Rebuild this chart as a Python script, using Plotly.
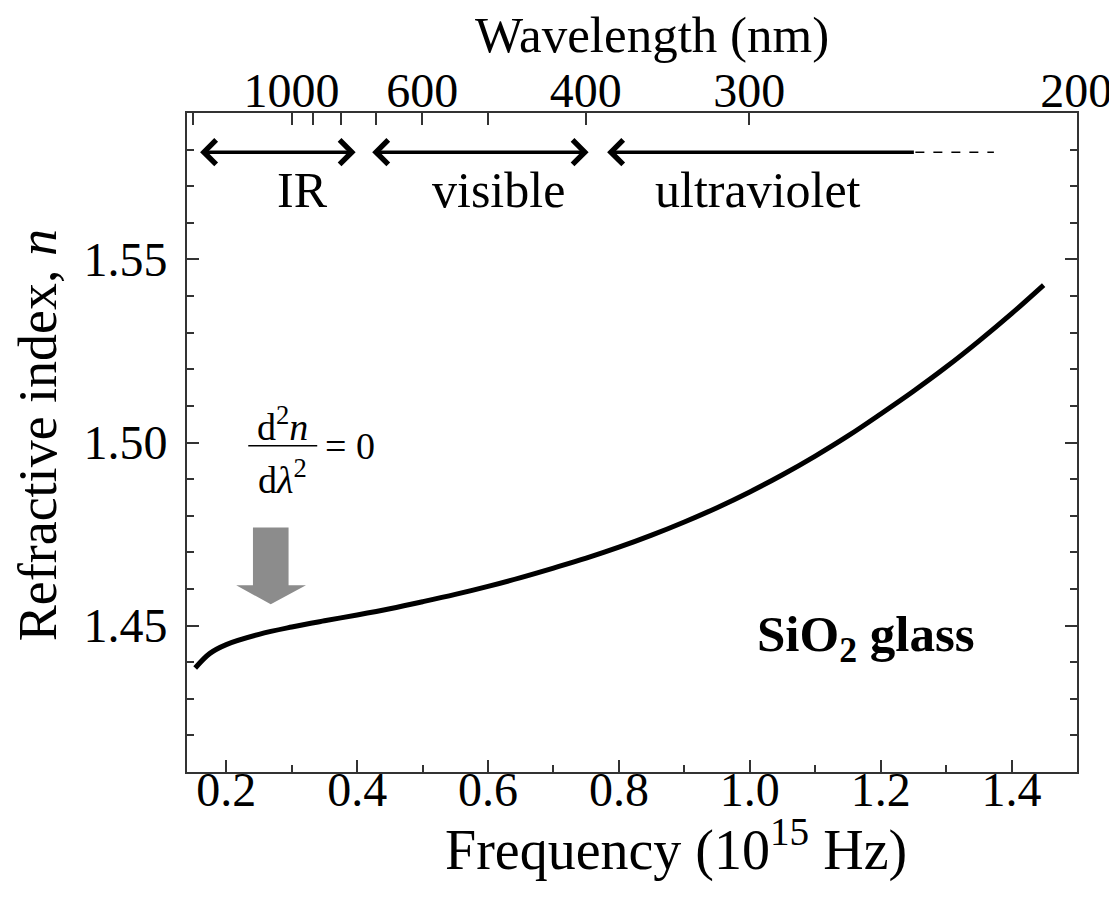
import plotly.graph_objects as go

# ---- data ----
freq = [0.1525, 0.175, 0.20, 0.25, 0.30, 0.35, 0.40, 0.45, 0.50, 0.55, 0.60, 0.65, 0.70,
        0.75, 0.80, 0.85, 0.90, 0.95, 1.00, 1.05, 1.10, 1.15, 1.20, 1.25, 1.30, 1.35,
        1.40, 1.449]
n_index = [1.4384, 1.4424, 1.4448, 1.4476, 1.4496, 1.4513, 1.4529, 1.4546, 1.4565, 1.4585,
           1.4607, 1.4631, 1.4657, 1.4684, 1.4714, 1.4747, 1.4783, 1.4822, 1.4865, 1.4912,
           1.4963, 1.5018, 1.5078, 1.5140, 1.5206, 1.5277, 1.5352, 1.5430]

x_ticks = [0.2, 0.4, 0.6, 0.8, 1.0, 1.2, 1.4]
x_minor = [0.3, 0.5, 0.7, 0.9, 1.1, 1.3]
y_ticks = [1.45, 1.50, 1.55]

wl_labeled = [1000, 600, 400, 300, 200]
wl_unlabeled = [2000, 900, 800, 700, 500]

# region spans (frequency, 10^15 Hz)
ir_span = [0.160, 0.400]
vis_span = [0.423, 0.756]
uv_span = [0.782, 1.253]
uv_dash = [1.253, 1.373]
span_y = 1.5793
region_labels = ["IR", "visible", "ultraviolet"]
region_label_x = [0.316, 0.616, 1.012]
region_label_y = 1.5689

FONT = "Liberation Serif"
AX = "#333333"
C_LIGHT = 299.79  # nm * 10^15 Hz

fig = go.Figure()
fig.add_trace(go.Scatter(x=freq, y=n_index, mode="lines", line=dict(color="black", width=5, shape="spline"),
                         showlegend=False, hoverinfo="skip"))
fig.add_trace(go.Scatter(x=uv_dash, y=[span_y, span_y], mode="lines",
                         line=dict(color="black", width=1.5, dash="dash"), showlegend=False, hoverinfo="skip"))
fig.add_trace(go.Scatter(x=[], y=[], xaxis="x2", showlegend=False, hoverinfo="skip"))

# region arrows
for (a, b), both in [(ir_span, True), (vis_span, True), (uv_span, False)]:
    fig.add_annotation(x=a, y=span_y, ax=b, ay=span_y, xref="x", yref="y", axref="x", ayref="y",
                       text="", showarrow=True, arrowhead=4, startarrowhead=4,
                       arrowside="end+start" if both else "end", arrowwidth=3.5, arrowsize=1.35,
                       startarrowsize=1.35, arrowcolor="black", standoff=0, startstandoff=0)
for t, x in zip(region_labels, region_label_x):
    fig.add_annotation(x=x, y=region_label_y, xref="x", yref="y", text=t, showarrow=False,
                       font=dict(family=FONT, size=50, color="black"), yanchor="middle")

# d2n/dlambda2 = 0 formula
frac_x = 0.2865
FS = 38
fig.add_annotation(x=frac_x, y=1.5050, xref="x", yref="y", text="d<sup>2</sup><i>n</i>", showarrow=False,
                   font=dict(family=FONT, size=FS, color="black"))
fig.add_annotation(x=frac_x, y=1.4905, xref="x", yref="y", text="d<i>λ</i><sup>2</sup>", showarrow=False,
                   font=dict(family=FONT, size=FS, color="black"))
fig.add_annotation(x=0.389, y=1.4991, xref="x", yref="y", text="= 0", showarrow=False,
                   font=dict(family=FONT, size=FS, color="black"))
fig.add_shape(type="line", xref="x", yref="y", x0=0.2336, x1=0.3390, y0=1.4991, y1=1.4991,
              line=dict(color="black", width=1.5))

# gray block arrow
arrow_path = ("M 0.2408 1.4768 L 0.2952 1.4768 L 0.2952 1.4610 L 0.3218 1.4610 "
              "L 0.2680 1.4558 L 0.2152 1.4610 L 0.2408 1.4610 Z")
fig.add_shape(type="path", xref="x", yref="y", path=arrow_path, fillcolor="#8c8c8c", line=dict(width=0))

fig.add_annotation(x=1.177, y=1.4466, xref="x", yref="y", text="<b>SiO<sub>2</sub> glass</b>",
                   showarrow=False, font=dict(family=FONT, size=51, color="black"))

# axis titles
fig.add_annotation(x=0.549, y=-0.112, xref="paper", yref="paper", text="Frequency (10<sup>15</sup> Hz)",
                   showarrow=False, font=dict(family=FONT, size=56, color="black"), yanchor="middle")
fig.add_annotation(x=0.522, y=1.118, xref="paper", yref="paper", text="Wavelength (nm)",
                   showarrow=False, font=dict(family=FONT, size=51, color="black"), yanchor="middle")
fig.add_annotation(x=-0.1674, y=0.511, xref="paper", yref="paper", text="Refractive index, <i>n</i>",
                   showarrow=False, textangle=-90, font=dict(family=FONT, size=54, color="black"),
                   xanchor="center", yanchor="middle")

fig.update_layout(
    width=1117, height=909,
    margin=dict(l=179, r=48, t=105, b=145),
    paper_bgcolor="white", plot_bgcolor="white",
    font=dict(family=FONT, color="black"),
    xaxis=dict(range=[0.14, 1.5], tickvals=x_ticks, tickformat=".1f", ticks="inside", ticklen=12,
               tickwidth=2, tickcolor=AX, showline=True, linewidth=2, linecolor=AX, mirror=False,
               showgrid=False, zeroline=False, tickfont=dict(family=FONT, size=48, color="black"),
               automargin=False, ticklabelstandoff=-26,
               minor=dict(tickvals=x_minor, ticks="inside", ticklen=7, tickwidth=2, tickcolor=AX)),
    xaxis2=dict(overlaying="x", side="top", anchor="y", range=[0.14, 1.5],
                tickvals=[C_LIGHT / w for w in wl_labeled], ticktext=[str(w) for w in wl_labeled],
                ticks="inside", ticklen=12,
                tickwidth=2, tickcolor=AX, showline=True, linewidth=2, linecolor=AX,
                showgrid=False, zeroline=False, tickfont=dict(family=FONT, size=48, color="black"),
                automargin=False, ticklabelstandoff=-15,
                minor=dict(tickvals=[C_LIGHT / w for w in wl_unlabeled], ticks="inside", ticklen=12,
                           tickwidth=2, tickcolor=AX)),
    yaxis=dict(range=[1.41, 1.59], tickvals=y_ticks, tickformat=".2f", ticks="inside", ticklen=12,
               tickwidth=2, tickcolor=AX, showline=True, linewidth=2, linecolor=AX, mirror="ticks",
               showgrid=False, zeroline=False, tickfont=dict(family=FONT, size=48, color="black"),
               automargin=False, ticklabelstandoff=8,
               minor=dict(dtick=0.01, tick0=1.41, ticks="inside", ticklen=7, tickwidth=2, tickcolor=AX)),
)

fig.write_html("out.html")
